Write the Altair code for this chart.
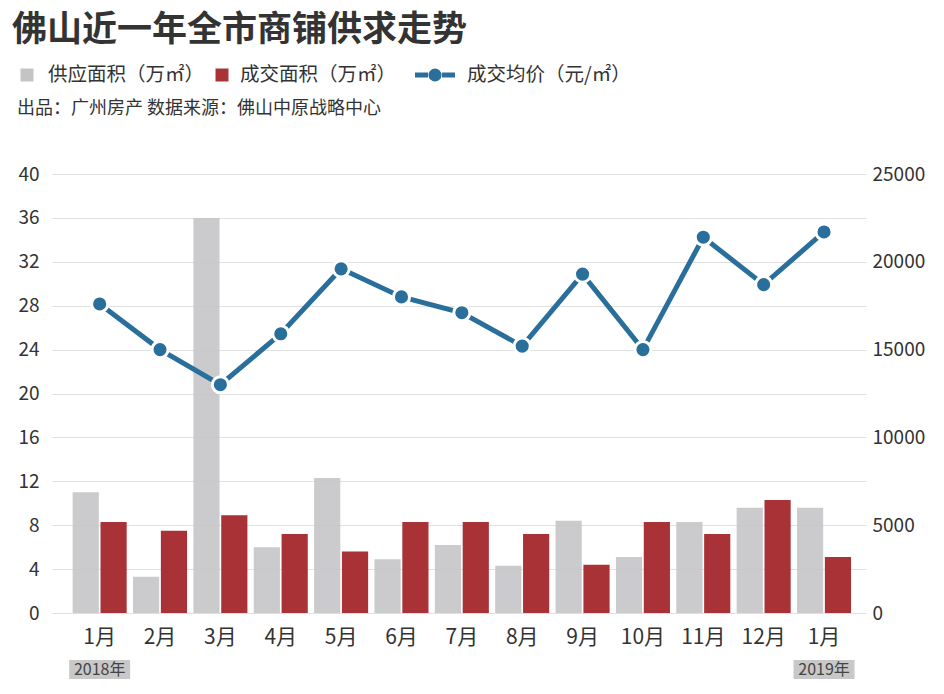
import altair as alt
import pandas as pd

# ---------------- data ----------------
months = ["2018年1月", "2018年2月", "2018年3月", "2018年4月", "2018年5月", "2018年6月",
          "2018年7月", "2018年8月", "2018年9月", "2018年10月", "2018年11月", "2018年12月",
          "2019年1月"]
supply = [11.0, 3.3, 36.0, 6.0, 12.3, 4.9, 6.2, 4.3, 8.4, 5.1, 8.3, 9.6, 9.6]
deal = [8.3, 7.5, 8.9, 7.2, 5.6, 8.3, 8.3, 7.2, 4.4, 8.3, 7.2, 10.3, 5.1]
price = [17600, 15000, 13000, 15900, 19600, 18000, 17100, 15200, 19300, 15000, 21400, 18700, 21700]
series = ["供应面积（万㎡）", "成交面积（万㎡）"]
price_name = "成交均价（元/㎡）"
year_months = ["2018年1月", "2019年1月"]
year_labels = ["2018年", "2019年"]
left_ticks = [0, 4, 8, 12, 16, 20, 24, 28, 32, 36, 40]
right_ticks = [0, 5000, 10000, 15000, 20000, 25000]
title_text = "佛山近一年全市商铺供求走势"
source_text = "出品：广州房产  数据来源：佛山中原战略中心"

# ---------------- style ----------------
W, H = 814, 439
FONT = "Noto Sans CJK SC"
GRAY, RED, BLUE = "#c4c4c6", "#a83236", "#2a6f9c"
TXT = "#333333"

bars_df = pd.DataFrame({
    "month": months * 2,
    "series": [series[0]] * len(months) + [series[1]] * len(months),
    "value": supply + deal,
})
line_df = pd.DataFrame({"month": months, "price": price})
year_df = pd.DataFrame({"month": year_months, "label": year_labels})

x_enc = alt.X(
    "month:N", sort=months, title=None,
    scale=alt.Scale(paddingInner=0.105, paddingOuter=0.295, align=0.58),
    axis=alt.Axis(labelExpr="split(datum.value, '年')[1]", labelAngle=0, domain=False,
                  ticks=False, labelFontSize=21, labelPadding=13, labelColor=TXT,
                  labelFont=FONT),
)

bars = alt.Chart(bars_df).mark_bar().encode(
    x=x_enc,
    xOffset=alt.XOffset("series:N", sort=series, scale=alt.Scale(paddingInner=0.06)),
    y=alt.Y("value:Q", title=None,
            scale=alt.Scale(domain=[0, 40], nice=False),
            axis=alt.Axis(values=left_ticks, domain=False, ticks=False, grid=True,
                          gridColor="#e0e0e0", labelFontSize=19, labelPadding=13,
                          labelColor=TXT, labelFont=FONT)),
    color=alt.Color("series:N", sort=series,
                    scale=alt.Scale(domain=series, range=[GRAY, RED]), legend=None),
    opacity=alt.Opacity("series:N", scale=alt.Scale(domain=series, range=[0.88, 1.0]),
                        legend=None),
)

y_price = alt.Y("price:Q", title=None,
                scale=alt.Scale(domain=[0, 25000], nice=False),
                axis=alt.Axis(orient="right", values=right_ticks, format="d", grid=False,
                              domain=False, ticks=False, labelFontSize=19, labelPadding=6,
                              labelColor=TXT, labelFont=FONT))

line = alt.Chart(line_df).mark_line(color=BLUE, strokeWidth=5).encode(x=x_enc, y=y_price)
pts = alt.Chart(line_df).mark_point(
    shape="circle", filled=True, fill=BLUE, stroke="white", strokeWidth=3,
    size=260, opacity=1
).encode(x=x_enc, y=y_price)
price_layer = alt.layer(line, pts)

ybox = alt.Chart(year_df).mark_bar(color="#c8c8c8", width=61).encode(
    x=x_enc, y=alt.value(H + 47), y2=alt.value(H + 66))
ytext = alt.Chart(year_df).mark_text(
    font=FONT, fontSize=16, color="#444444", baseline="middle"
).encode(x=x_enc, y=alt.value(H + 57), text="label:N")


def label(text, x, y, size, weight="normal", color=TXT):
    return alt.Chart(pd.DataFrame({"t": [text]})).mark_text(
        font=FONT, fontSize=size, fontWeight=weight, color=color,
        align="left", baseline="middle"
    ).encode(x=alt.value(x), y=alt.value(y), text="t:N")


one = pd.DataFrame({"k": [0]})
title = label(title_text, -40, -144, 35, "bold", "#333333")
leg1 = label(series[0], -4, -99, 19.5)
leg2 = label(series[1], 188, -99, 19.5)
leg3 = label(price_name, 415, -99, 19.5)
sq1 = alt.Chart(one).mark_square(color=GRAY, size=169, opacity=1).encode(
    x=alt.value(-25), y=alt.value(-99))
sq2 = alt.Chart(one).mark_square(color=RED, size=169, opacity=1).encode(
    x=alt.value(170), y=alt.value(-99))
r1 = alt.Chart(one).mark_rule(color=BLUE, strokeWidth=5).encode(
    x=alt.value(363), x2=alt.value(376), y=alt.value(-99))
r2 = alt.Chart(one).mark_rule(color=BLUE, strokeWidth=5).encode(
    x=alt.value(390), x2=alt.value(403), y=alt.value(-99))
dot = alt.Chart(one).mark_circle(color=BLUE, size=170, opacity=1).encode(
    x=alt.value(383), y=alt.value(-99))
src = label(source_text, -35, -65, 18)

chart = alt.layer(
    bars, price_layer, ybox, ytext, title, leg1, leg2, leg3, sq1, sq2, r1, r2, dot, src
).resolve_scale(y="independent").properties(
    width=W, height=H,
    padding={"left": 52, "top": 174, "right": 78, "bottom": 81},
    autosize=alt.AutoSizeParams(type="none"),
    background="white",
).configure_view(stroke=None)

chart.save("out.html", embed_options={"renderer": "svg", "actions": False})
